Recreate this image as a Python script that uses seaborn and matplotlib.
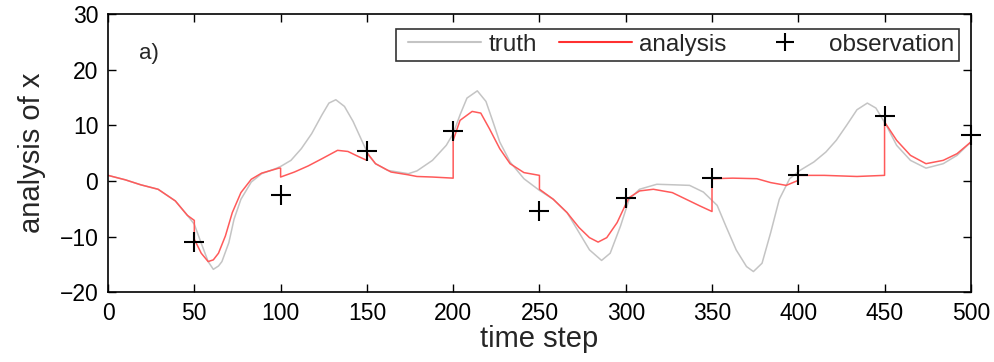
import numpy as np
import pandas as pd
import seaborn as sns
import matplotlib.pyplot as plt
from matplotlib.lines import Line2D
from matplotlib.legend_handler import HandlerLine2D

# values
truth_t = [0, 10, 19, 29, 39, 46, 50, 54, 58, 61, 64, 66, 70, 73, 77, 83, 89, 97, 100,
           106, 112, 118, 124, 128, 132, 137, 142, 147, 151, 155, 162, 174, 179, 188,
           196, 200, 204, 208, 214, 219, 223, 227, 233, 241, 250, 258, 266, 273, 279,
           286, 291, 297, 302, 308, 318, 328, 337, 345, 353, 358, 364, 370, 374, 379,
           384, 389, 395, 401, 409, 416, 422, 428, 434, 440, 445, 451, 457, 465, 474,
           484, 492, 500]
truth_x = [1.0, 0.2, -0.7, -1.5, -3.6, -6.2, -7.8, -11.2, -14.5, -15.9, -15.3, -14.5,
           -11.1, -6.9, -3.3, -0.2, 1.3, 2.2, 2.6, 3.7, 5.8, 8.5, 11.9, 14.0, 14.6, 13.4,
           10.7, 7.3, 4.6, 3.1, 1.9, 1.3, 1.8, 3.7, 6.4, 8.5, 11.9, 14.9, 16.2, 14.3,
           10.7, 7.0, 3.4, 0.4, -1.7, -3.3, -5.7, -9.3, -12.4, -14.3, -13.0, -8.1, -3.3,
           -1.5, -0.6, -0.7, -0.8, -2.0, -4.4, -8.1, -12.4, -15.4, -16.3, -14.8, -9.3,
           -3.3, 0.4, 1.9, 3.4, 5.2, 7.3, 10.0, 12.8, 14.0, 13.1, 10.0, 6.4, 3.7, 2.3,
           3.1, 4.6, 7.0]

# analysis jumps at each observation time (two values at the same step)
ana_t = [0, 10, 19, 29, 39, 46, 50, 50, 54, 58, 61, 64, 68, 72, 77, 83, 89, 99, 100,
         100, 108, 116, 124, 133, 139, 145, 150, 150, 155, 164, 174, 179, 188, 200,
         200, 204, 211, 216, 221, 227, 233, 241, 250, 250, 258, 266, 273, 279, 284,
         289, 295, 300, 302, 308, 316, 327, 337, 343, 350, 350, 362, 376, 384, 393,
         400, 400, 415, 434, 450, 450, 457, 465, 474, 484, 492, 500]
ana_x = [1.0, 0.2, -0.7, -1.5, -3.6, -6.2, -7.1, -10.5, -13.0, -14.5, -14.2, -13.0,
         -9.9, -5.7, -2.1, 0.3, 1.4, 2.3, 2.3, 0.7, 1.6, 2.7, 4.0, 5.5, 5.3, 4.4, 3.7,
         5.1, 3.1, 1.6, 1.1, 0.8, 0.7, 0.5, 7.3, 10.9, 12.5, 12.2, 9.4, 5.8, 3.1, 1.5,
         1.0, -1.5, -3.3, -5.7, -8.4, -10.2, -11.0, -10.2, -7.5, -4.2, -3.0, -1.8,
         -1.5, -2.1, -3.6, -4.5, -5.5, 0.4, 0.5, 0.4, -0.3, -0.8, 0.1, 1.0, 1.0, 0.8,
         1.0, 10.6, 7.3, 4.6, 3.1, 3.7, 4.9, 7.0]

obs_t = [50, 100, 150, 200, 250, 300, 350, 400, 450, 500]
obs_x = [-11.0, -2.5, 5.3, 8.9, -5.4, -3.0, 0.5, 1.1, 11.7, 8.2]

truth = pd.DataFrame({"t": truth_t, "x": truth_x})
ana = pd.DataFrame({"t": ana_t, "x": ana_x})
obs = pd.DataFrame({"t": obs_t, "x": obs_x})

sns.set_style("ticks")
plt.rcParams["font.family"] = ["Liberation Sans", "DejaVu Sans"]

fig = plt.figure(figsize=(9.94, 3.62), dpi=100)
ax = fig.add_axes([0.1087, 0.193, 0.868, 0.768])

sns.lineplot(data=truth, x="t", y="x", ax=ax, color="#c4c4c4", lw=1.1,
             estimator=None, sort=False)
sns.lineplot(data=ana, x="t", y="x", ax=ax, color="#ff5a5a", lw=1.1,
             estimator=None, sort=False)
sns.scatterplot(data=obs, x="t", y="x", ax=ax, marker="+", s=200, color="black",
                linewidth=1.5, zorder=5, clip_on=False)

ax.set_xlim(0, 500)
ax.set_ylim(-20, 30)
ax.set_xticks(np.arange(0, 501, 50))
ax.set_yticks(np.arange(-20, 31, 10))
ax.set_yticklabels([str(v).replace("-", "\u2212") for v in range(-20, 31, 10)])
ax.tick_params(direction="in", top=True, right=True, length=6, width=1,
               labelsize=16.5, colors="black", pad=7)
for s in ax.spines.values():
    s.set_linewidth(1.2)
    s.set_color("black")
ax.set_xlabel("time step", fontsize=21, labelpad=0)
ax.set_ylabel("analysis of x", fontsize=21, labelpad=10)
ax.text(18, 23, "a)", fontsize=16, va="center")

handles = [Line2D([], [], color="#c4c4c4", lw=1.5),
           Line2D([], [], color="#ff3030", lw=1.5),
           Line2D([], [], color="black", marker="+", ls="", ms=13, mew=1.5)]
hmap = {h: HandlerLine2D(xpad=0.3) for h in handles}
leg = ax.legend(handles, ["truth", "analysis", "observation"], ncol=3,
                handler_map=hmap,
                loc="upper right", bbox_to_anchor=(0.986, 0.946), borderaxespad=0,
                fontsize=17.5, frameon=True, fancybox=False, edgecolor="black",
                handlelength=3.3, columnspacing=0.6, handletextpad=0.3,
                borderpad=0.2)
leg.get_frame().set_linewidth(1.2)

fig.savefig("out.png", dpi=100)
